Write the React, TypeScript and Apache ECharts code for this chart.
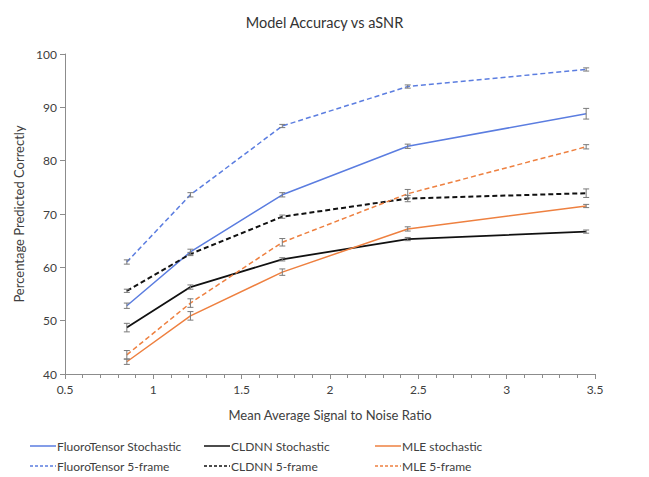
import React, { useEffect, useRef } from "react";
import * as echarts from "echarts";

const xValues = [0.85, 1.21, 1.73, 2.44, 3.45];

const seriesNames = [
  "FluoroTensor Stochastic",
  "CLDNN Stochastic",
  "MLE stochastic",
  "FluoroTensor 5-frame",
  "CLDNN 5-frame",
  "MLE 5-frame",
];

const ftStochastic = [52.8, 62.9, 73.6, 82.7, 88.8];
const cldnnStochastic = [48.7, 56.3, 61.5, 65.3, 66.7];
const mleStochastic = [42.3, 50.9, 59.1, 67.2, 71.5];
const ft5frame = [61.0, 73.6, 86.5, 93.9, 97.1];
const cldnn5frame = [55.6, 62.5, 69.5, 72.9, 73.9];
const mle5frame = [43.6, 53.3, 64.7, 73.8, 82.6];

const ftStochasticErr = [0.5, 0.5, 0.4, 0.4, 1.0];
const cldnnStochasticErr = [0.8, 0.4, 0.3, 0.3, 0.3];
const mleStochasticErr = [0.5, 0.8, 0.6, 0.4, 0.3];
const ft5frameErr = [0.4, 0.4, 0.3, 0.3, 0.3];
const cldnn5frameErr = [0.3, 0.3, 0.3, 0.6, 0.8];
const mle5frameErr = [0.8, 0.8, 0.7, 0.8, 0.4];

const BLUE = "#5b7de0";
const BLACK = "#111111";
const ORANGE = "#ee8040";
const TEXT = "#404040";
const AXIS = "#8c8c8c";
const FONT = "Lato, 'Open Sans', sans-serif";

const seriesDefs = [
  { name: seriesNames[0], values: ftStochastic, err: ftStochasticErr, color: BLUE, dash: null as number[] | null, width: 1.5 },
  { name: seriesNames[1], values: cldnnStochastic, err: cldnnStochasticErr, color: BLACK, dash: null, width: 1.8 },
  { name: seriesNames[2], values: mleStochastic, err: mleStochasticErr, color: ORANGE, dash: null, width: 1.5 },
  { name: seriesNames[3], values: ft5frame, err: ft5frameErr, color: BLUE, dash: [5, 3], width: 1.5 },
  { name: seriesNames[4], values: cldnn5frame, err: cldnn5frameErr, color: BLACK, dash: [5, 3], width: 2 },
  { name: seriesNames[5], values: mle5frame, err: mle5frameErr, color: ORANGE, dash: [5, 3], width: 1.5 },
];

export default function App() {
  const ref = useRef<HTMLDivElement>(null);
  useEffect(() => {
    if (!ref.current) return;
    const chart = echarts.init(ref.current, null, { renderer: "svg" });

    const lineSeries = seriesDefs.map((s) => ({
      name: s.name,
      type: "line",
      symbol: "none",
      data: xValues.map((x, i) => [x, s.values[i]]),
      lineStyle: { color: s.color, width: s.width, type: s.dash ? s.dash : "solid" },
      itemStyle: { color: s.color },
      z: 3,
    }));

    const errSeries = seriesDefs.map((s) => ({
      name: s.name + " error",
      type: "custom",
      data: xValues.map((x, i) => [x, s.values[i] - s.err[i], s.values[i] + s.err[i]]),
      renderItem: (params: any, api: any) => {
        const x = api.value(0);
        const lo = api.coord([x, api.value(1)]);
        const hi = api.coord([x, api.value(2)]);
        const cw = 3;
        const st = { stroke: "#7a7a7a", lineWidth: 1 };
        return {
          type: "group",
          children: [
            { type: "line", shape: { x1: lo[0], y1: lo[1], x2: hi[0], y2: hi[1] }, style: st },
            { type: "line", shape: { x1: lo[0] - cw, y1: lo[1], x2: lo[0] + cw, y2: lo[1] }, style: st },
            { type: "line", shape: { x1: hi[0] - cw, y1: hi[1], x2: hi[0] + cw, y2: hi[1] }, style: st },
          ],
        };
      },
      z: 4,
    }));

    const colX = [30, 204, 375];
    const rowY = [446, 466];
    const legendItems: any[] = [];
    seriesDefs.forEach((s, i) => {
      const col = i % 3;
      const row = Math.floor(i / 3);
      const x0 = colX[col];
      const y0 = rowY[row];
      legendItems.push({
        type: "line",
        shape: { x1: x0, y1: y0, x2: x0 + 26, y2: y0 },
        style: { stroke: s.color, lineWidth: s.dash ? 1.3 : 1.5, lineDash: s.dash ? [3, 2] : null },
      });
      legendItems.push({
        type: "text",
        x: x0 + 27,
        y: y0,
        style: { text: s.name, fill: TEXT, font: `12px ${FONT}`, textVerticalAlign: "middle", verticalAlign: "middle" },
      });
    });

    chart.setOption({
      animation: false,
      backgroundColor: "#ffffff",
      textStyle: { fontFamily: FONT },
      title: {
        text: "Model Accuracy vs aSNR",
        left: "center",
        top: 10,
        textStyle: { fontFamily: FONT, fontSize: 14.5, fontWeight: "normal", color: "#333333" },
      },
      grid: { left: 65, right: 54, top: 54, bottom: 103 },
      xAxis: {
        type: "value",
        min: 0.5,
        max: 3.5,
        interval: 0.5,
        name: "Mean Average Signal to Noise Ratio",
        nameLocation: "middle",
        nameGap: 34,
        nameTextStyle: { fontFamily: FONT, fontSize: 13, color: TEXT },
        axisLine: { show: true, lineStyle: { color: AXIS, width: 1 } },
        axisTick: { show: true, inside: false, length: 5, lineStyle: { color: AXIS } },
        minorTick: { show: true, splitNumber: 5, length: 4, lineStyle: { color: AXIS } },
        splitLine: { show: false },
        axisLabel: { fontFamily: FONT, fontSize: 12, color: TEXT, margin: 9 },
      },
      yAxis: {
        type: "value",
        min: 40,
        max: 100,
        interval: 10,
        name: "Percentage Predicted Correctly",
        nameLocation: "middle",
        nameGap: 40,
        nameTextStyle: { fontFamily: FONT, fontSize: 13, color: TEXT },
        axisLine: { show: true, lineStyle: { color: AXIS, width: 1 } },
        axisTick: { show: true, inside: false, length: 5, lineStyle: { color: AXIS } },
        splitLine: { show: false },
        axisLabel: { fontFamily: FONT, fontSize: 12, color: TEXT, margin: 8 },
      },
      series: [...lineSeries, ...errSeries],
      graphic: legendItems,
    });
    return () => chart.dispose();
  }, []);
  return (
    <div
      ref={ref}
      style={{ position: "fixed", left: 0, top: 0, width: 649, height: 477, background: "#fff" }}
    />
  );
}
